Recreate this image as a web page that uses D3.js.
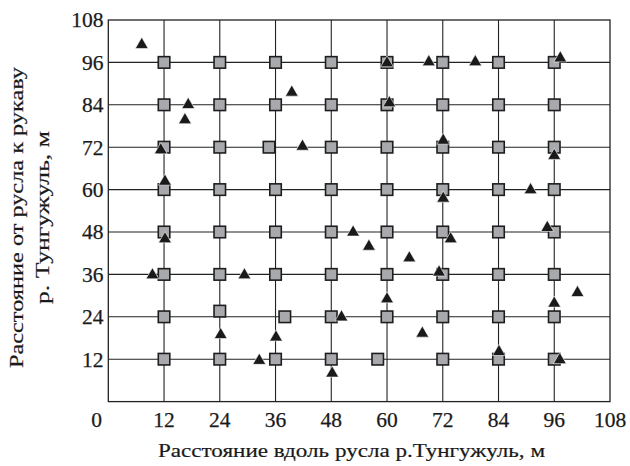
<!DOCTYPE html>
<html>
<head>
<meta charset="utf-8">
<script src="https://cdn.jsdelivr.net/npm/d3@7"></script>
<style>
body { margin: 0; background: #fff; }
</style>
</head>
<body>
<script>
// quadrat grid points (gray squares)
var squareX = [12, 24, 36, 48, 60, 72, 84, 96,
               12, 24, 36, 48, 60, 72, 84, 96,
               12, 24, 34.6, 48, 60, 72, 84, 96,
               12, 24, 36, 48, 60, 72, 84, 96,
               12, 24, 36, 48, 60, 72, 84, 96,
               12, 24, 36, 48, 60, 72, 84, 96,
               12, 24, 38, 48, 60, 72, 84, 96,
               12, 24, 36, 48, 58, 72, 84, 96];
var squareY = [96, 96, 96, 96, 96, 96, 96, 96,
               84, 84, 84, 84, 84, 84, 84, 84,
               72, 72, 72, 72, 72, 72, 72, 72,
               60, 60, 60, 60, 60, 60, 60, 60,
               48, 48, 48, 48, 48, 48, 48, 48,
               36, 36, 36, 36, 36, 36, 36, 36,
               24, 25.6, 24, 24, 24, 24, 24, 24,
               12, 12, 12, 12, 12, 12, 12, 12];

// observed points (black triangles)
var triangleX = [7.2, 11.3, 12.2, 17.2, 16.5, 39.5, 41.8, 60.0, 69.0, 79.0, 97.3, 60.5,
                 72.1, 96.0, 90.9, 72.1, 12.2, 52.7, 56.1, 64.8, 73.7, 71.2, 94.5, 9.5,
                 29.3, 50.2, 24.2, 36.1, 32.5, 48.2, 60.0, 67.6, 84.1, 96.0, 101.0, 97.2];
var triangleY = [101.0, 71.2, 62.3, 84.0, 79.7, 87.5, 72.2, 95.8, 96.1, 96.1, 97.2, 84.5,
                 73.9, 69.6, 59.9, 57.5, 46.0, 47.9, 43.9, 40.6, 46.0, 36.6, 49.2, 35.8,
                 35.8, 23.9, 18.9, 18.2, 11.6, 8.0, 29.0, 19.3, 14.1, 27.8, 30.8, 11.8];

var ticks = [12, 24, 36, 48, 60, 72, 84, 96, 108];
var gridTicks = [12, 24, 36, 48, 60, 72, 84, 96];

var xTitle = "Расстояние вдоль русла р.Тунгужуль, м";
var yTitle = ["Расстояние от русла к рукаву", "р. Тунгужуль, м"];

var width = 630,
    height = 466;
var font = "'Liberation Serif'";
var ink = "#1a1a1a";

var svg = d3.select("body")
    .append("svg")
    .attr("width", width)
    .attr("height", height);

var x = d3.scaleLinear().domain([0, 108]).range([108.3, 610]);
var y = d3.scaleLinear().domain([0, 108]).range([401.6, 20]);

var g = svg.append("g");

// grid
g.selectAll(".vgrid")
    .data(gridTicks)
    .enter().append("line")
    .attr("x1", d => x(d)).attr("x2", d => x(d))
    .attr("y1", y(0)).attr("y2", y(108))
    .attr("stroke", "#222").attr("stroke-width", 1.1);

g.selectAll(".hgrid")
    .data(gridTicks)
    .enter().append("line")
    .attr("y1", d => y(d)).attr("y2", d => y(d))
    .attr("x1", x(0)).attr("x2", x(108))
    .attr("stroke", "#222").attr("stroke-width", 1.1);

g.append("rect")
    .attr("x", x(0)).attr("y", y(108))
    .attr("width", x(108) - x(0)).attr("height", y(0) - y(108))
    .attr("fill", "none").attr("stroke", "#222").attr("stroke-width", 1.3);

// tick labels
svg.selectAll(".ylab")
    .data(ticks)
    .enter().append("text")
    .attr("x", 103.5)
    .attr("y", d => y(d))
    .attr("dy", "0.34em")
    .attr("text-anchor", "end")
    .attr("fill", ink).attr("stroke", ink).attr("stroke-width", 0.25)
    .style("font-family", font)
    .style("font-size", "21.5px")
    .text(d => d);

svg.selectAll(".xlab")
    .data(ticks)
    .enter().append("text")
    .attr("x", d => x(d))
    .attr("y", 426.7)
    .attr("text-anchor", "middle")
    .attr("fill", ink).attr("stroke", ink).attr("stroke-width", 0.25)
    .style("font-family", font)
    .style("font-size", "21.5px")
    .text(d => d);

svg.append("text")
    .attr("x", 96.7).attr("y", 426.7)
    .attr("text-anchor", "middle")
    .attr("fill", ink).attr("stroke", ink).attr("stroke-width", 0.25)
    .style("font-family", font)
    .style("font-size", "21.5px")
    .text("0");

// axis titles
svg.append("text")
    .attr("x", 351.5).attr("y", 456.5)
    .attr("text-anchor", "middle")
    .attr("fill", ink).attr("stroke", ink).attr("stroke-width", 0.2)
    .attr("textLength", 387)
    .attr("lengthAdjust", "spacingAndGlyphs")
    .style("font-family", font)
    .style("font-size", "19.5px")
    .text(xTitle);

var yLen = [301, 173];
svg.selectAll(".ytitle")
    .data(yTitle)
    .enter().append("text")
    .attr("transform", (d, i) => "translate(" + (23 + i * 25.5) + ",217.5) rotate(-90)")
    .attr("text-anchor", "middle")
    .attr("fill", ink).attr("stroke", ink).attr("stroke-width", 0.2)
    .attr("textLength", (d, i) => yLen[i])
    .attr("lengthAdjust", "spacingAndGlyphs")
    .style("font-family", font)
    .style("font-size", "19.5px")
    .text(d => d);

// squares
var sq = 11.5;
var squares = d3.range(squareX.length).map(i => [squareX[i], squareY[i]]);
g.selectAll(".sq")
    .data(squares)
    .enter().append("rect")
    .attr("x", d => x(d[0]) - sq / 2)
    .attr("y", d => y(d[1]) - sq / 2)
    .attr("width", sq).attr("height", sq)
    .attr("fill", "#a7a9ac")
    .attr("stroke", "#1e1e1e")
    .attr("stroke-width", 1.6);

// triangles
var tri = d3.symbol().type(d3.symbolTriangle).size(72);
var triangles = d3.range(triangleX.length).map(i => [triangleX[i], triangleY[i]]);
g.selectAll(".tri")
    .data(triangles)
    .enter().append("path")
    .attr("d", tri)
    .attr("transform", d => "translate(" + x(d[0]) + "," + y(d[1]) + ")")
    .attr("fill", "#1a1a1a")
    .attr("stroke", "#fff")
    .attr("stroke-width", 0.6);
</script>
</body>
</html>
